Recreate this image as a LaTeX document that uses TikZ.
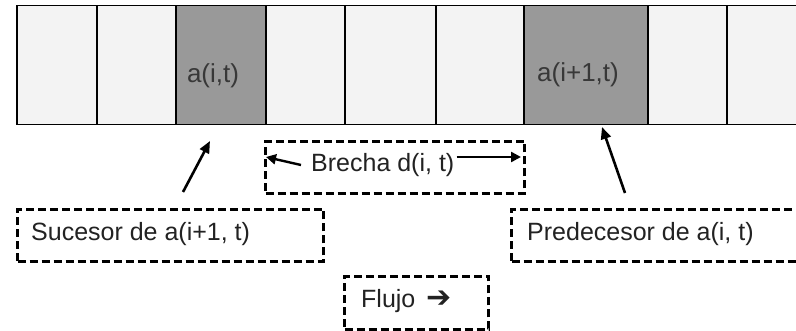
\documentclass[tikz,border=0pt]{standalone}
\usepackage{fontspec}
\setmainfont{Liberation Sans}
\newfontfamily\symfont{DejaVu Sans}
\usetikzlibrary{arrows.meta}
\definecolor{cellpale}{HTML}{F3F3F3}
\definecolor{celldark}{HTML}{999999}
\definecolor{ink}{HTML}{222222}
\tikzset{
  cell/.style={draw=black, line width=1.5pt, fill=cellpale, minimum height=119pt, inner sep=0pt, anchor=north west},
  darkcell/.style={cell, fill=celldark},
  celltext/.style={font=\fontsize{26}{30}\selectfont, text=ink!90, inner sep=0pt},
  notebox/.style={draw=black, line width=3pt, dash pattern=on 8pt off 4pt, inner sep=0pt, anchor=north west},
  notetext/.style={font=\fontsize{25}{29}\selectfont, text=ink, inner sep=0pt, anchor=west},
  pointer/.style={line width=2.6pt, -{Triangle[length=12pt, width=10pt]}},
  gaparrow/.style={line width=2.4pt, -{Triangle[length=10pt, width=10pt]}}
}
\begin{document}
\begin{tikzpicture}[x=1pt, y=-1pt]
  \useasboundingbox (0,0) rectangle (796,331);
  \clip (0,0) rectangle (796,331);
  % row of cells
  \node[cell, minimum width=80pt]     (c1) at (16,5) {};
  \node[cell, minimum width=79pt]     (c2) at (96,5) {};
  \node[darkcell, minimum width=90pt] (c3) at (175,5) {};
  \node[cell, minimum width=79pt]     (c4) at (265,5) {};
  \node[cell, minimum width=91pt]     (c5) at (344,5) {};
  \node[cell, minimum width=88pt]     (c6) at (435,5) {};
  \node[darkcell, minimum width=124pt] (c7) at (523,5) {};
  \node[cell, minimum width=79pt]     (c8) at (647,5) {};
  \node[cell, minimum width=100pt]    (c9) at (726,5) {};
  \node[celltext] (ta) at (213,76) {a(i,t)};
  \node[celltext] (tb) at (578,75) {a(i+1,t)};
  % dashed note boxes
  \node[notebox, minimum width=259pt, minimum height=52pt] (gap) at (264,140) {};
  \node[notetext] (gaptext) at (311,165) {Brecha d(i, t)};
  \node[notebox, minimum width=306pt, minimum height=52pt] (succ) at (16,208) {};
  \node[notetext] (succtext) at (31,234) {Sucesor de a(i+1, t)};
  \node[notebox, minimum width=300pt, minimum height=52pt] (pred) at (510,208) {};
  \node[notetext] (predtext) at (527,234) {Predecesor de a(i, t)};
  \node[notebox, minimum width=144pt, minimum height=53pt] (flow) at (343,275) {};
  \node[notetext] (flowtext) at (361,301) {Flujo \,{\symfont\fontsize{30}{30}\selectfont ➔}};
  % pointers
  \coordinate (sfrom) at (183,192);
  \coordinate (sto) at (210,141);
  \coordinate (pfrom) at (625,193);
  \coordinate (pto) at (602,127);
  \draw[pointer] (sfrom) -- (sto);
  \draw[pointer] (pfrom) -- (pto);
  % span of the gap
  \coordinate (gl) at (266,157);
  \coordinate (gr) at (521,157);
  \draw[gaparrow] (gaptext.west -| 301,157) -- (gl);
  \draw[gaparrow] (gaptext.east |- 0,157) ++(2,0) -- (gr);
\end{tikzpicture}
\end{document}
